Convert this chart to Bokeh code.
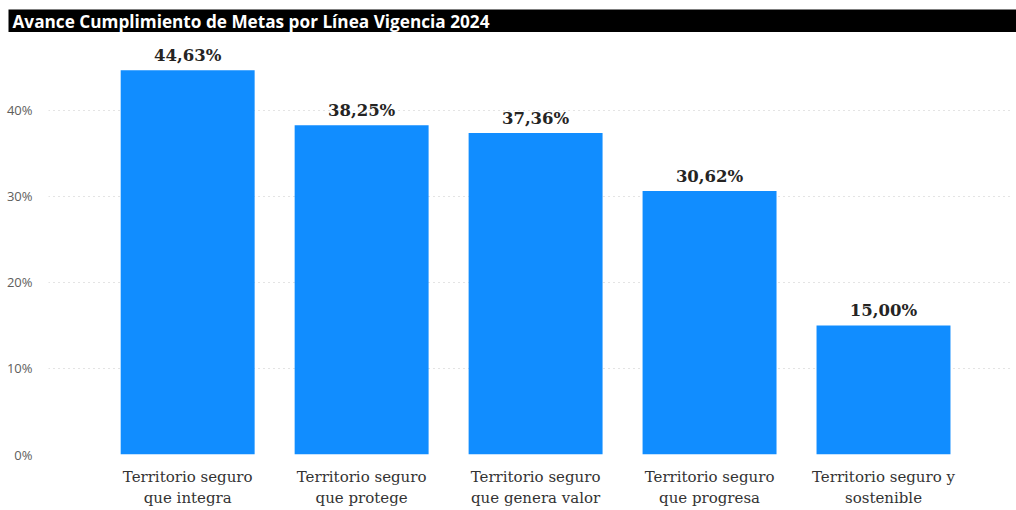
from bokeh.plotting import figure
from bokeh.models import ColumnDataSource, FixedTicker, Label
from bokeh.layouts import column, row
from bokeh.core.properties import value
from bokeh.embed import file_html
from bokeh.resources import INLINE

categories = [
    "Territorio seguro\nque integra",
    "Territorio seguro\nque protege",
    "Territorio seguro\nque genera valor",
    "Territorio seguro\nque progresa",
    "Territorio seguro y\nsostenible",
]
values = [44.63, 38.25, 37.36, 30.62, 15.00]
y_ticks = [0, 10, 20, 30, 40]
title_text = "Avance Cumplimiento de Metas por Línea Vigencia 2024"

xs = list(range(len(categories)))
labels = [f"{v:.2f}".replace(".", ",") + "%" for v in values]
src = ColumnDataSource(dict(x=xs, top=values, label=labels))

# title bar
tf = figure(width=1008, height=23, output_backend="svg", toolbar_location=None,
            x_range=(0, 1), y_range=(0, 1), min_border=0, margin=(9, 0, 0, 8))
tf.axis.visible = False
tf.grid.visible = False
tf.outline_line_color = None
tf.background_fill_color = "black"
tf.border_fill_color = "black"
tf.add_layout(Label(x=4, y=11.5, x_units="screen", y_units="screen", text=title_text,
                    text_align="left", text_baseline="middle", text_font="Open Sans",
                    text_font_style="bold", text_font_size="17.2px", text_color="white"))

p = figure(width=1016, height=478, output_backend="svg", toolbar_location=None,
           x_range=(-0.8, 4.73), y_range=(0, 48.1),
           min_border_left=48, min_border_right=6, min_border_top=8, min_border_bottom=0)

p.vbar(x="x", top="top", width=0.77, bottom=0, source=src, color="#118DFF", line_color=None)
p.text(x="x", y="top", text="label", source=src, text_align="center", text_baseline="bottom",
       y_offset=-5, text_font=value("DejaVu Serif"), text_font_style="bold",
       text_font_size="16.5px", text_color="#252423")

p.outline_line_color = None
p.xgrid.grid_line_color = None
p.ygrid.grid_line_color = "#C8C8C8"
p.ygrid.grid_line_dash = "1 4"
p.ygrid.ticker = FixedTicker(ticks=y_ticks)

p.yaxis.ticker = FixedTicker(ticks=y_ticks)
p.yaxis.major_label_overrides = {v: f"{v}%" for v in y_ticks}
p.yaxis.axis_line_color = None
p.yaxis.major_tick_line_color = None
p.yaxis.minor_tick_line_color = None
p.yaxis.major_label_text_font = "Open Sans"
p.yaxis.major_label_text_font_size = "13px"
p.yaxis.major_label_text_color = "#605E5C"
p.yaxis.major_label_standoff = 10

p.xaxis.ticker = FixedTicker(ticks=xs)
p.xaxis.major_label_overrides = {i: c for i, c in enumerate(categories)}
p.xaxis.axis_line_color = None
p.xaxis.major_tick_line_color = None
p.xaxis.minor_tick_line_color = None
p.xaxis.major_label_text_font = "DejaVu Serif"
p.xaxis.major_label_text_font_size = "15px"
p.xaxis.major_label_text_color = "#333333"
p.xaxis.major_label_standoff = 7

open("out.html", "w").write(file_html(column(row(tf), p, spacing=0), INLINE))
